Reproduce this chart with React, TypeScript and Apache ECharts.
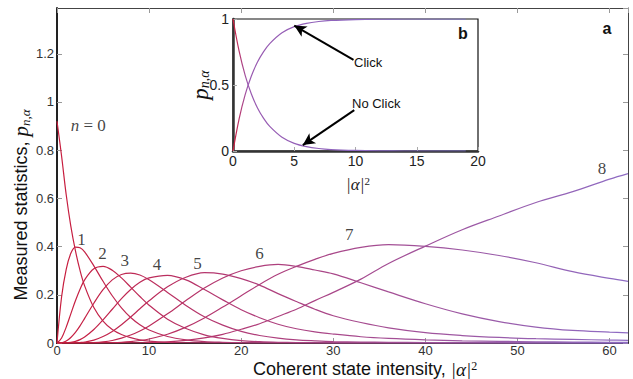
import React, { useEffect, useRef } from 'react';
import * as echarts from 'echarts';

// Main panel (a): coherent state intensity grid and measured click statistics p_n
const intensity = [0, 0.5, 1, 1.5, 2, 2.5, 3, 4, 5, 6, 7, 8, 9, 10, 12, 14, 16, 18, 20, 22, 24, 26, 28, 30, 33, 36, 40, 44, 48, 52, 56, 60, 62];
const n0 = [0.92, 0.775, 0.615, 0.485, 0.383, 0.301, 0.237, 0.147, 0.091, 0.056, 0.035, 0.022, 0.013, 0.008, 0.003, 0.001, 0.0005, 0, 0, 0, 0, 0, 0, 0, 0, 0, 0, 0, 0, 0, 0, 0, 0];
const n1 = [0, 0.192, 0.306, 0.372, 0.398, 0.395, 0.378, 0.32, 0.256, 0.196, 0.146, 0.106, 0.076, 0.054, 0.027, 0.013, 0.006, 0.003, 0.0013, 0.0006, 0, 0, 0, 0, 0, 0, 0, 0, 0, 0, 0, 0, 0];
const n2 = [0, 0.021, 0.066, 0.121, 0.175, 0.223, 0.262, 0.308, 0.318, 0.302, 0.27, 0.232, 0.193, 0.157, 0.099, 0.06, 0.034, 0.019, 0.01, 0.0055, 0.003, 0.0018, 0.001, 0.0007, 0, 0, 0, 0, 0, 0, 0, 0, 0];
const n3 = [0, 0.001, 0.008, 0.023, 0.044, 0.071, 0.102, 0.165, 0.221, 0.262, 0.284, 0.29, 0.282, 0.262, 0.21, 0.156, 0.109, 0.074, 0.048, 0.031, 0.02, 0.013, 0.009, 0.006, 0.004, 0.003, 0.002, 0.001, 0.001, 0, 0, 0, 0];
const n4 = [0, 0, 0.0006, 0.003, 0.007, 0.014, 0.025, 0.056, 0.096, 0.14, 0.184, 0.222, 0.252, 0.27, 0.281, 0.262, 0.222, 0.179, 0.138, 0.105, 0.078, 0.059, 0.046, 0.037, 0.026, 0.019, 0.013, 0.009, 0.007, 0.005, 0.004, 0.003, 0.003];
const n5 = [0, 0, 0, 0.0002, 0.0007, 0.002, 0.004, 0.012, 0.027, 0.048, 0.076, 0.108, 0.142, 0.175, 0.233, 0.273, 0.292, 0.286, 0.267, 0.24, 0.205, 0.172, 0.14, 0.113, 0.085, 0.063, 0.043, 0.031, 0.023, 0.018, 0.015, 0.012, 0.011];
const n6 = [0, 0, 0, 0, 0, 0.0002, 0.0004, 0.0016, 0.0047, 0.0104, 0.02, 0.033, 0.05, 0.071, 0.121, 0.176, 0.228, 0.27, 0.3, 0.318, 0.326, 0.318, 0.303, 0.287, 0.25, 0.212, 0.163, 0.121, 0.089, 0.066, 0.052, 0.045, 0.042];
const n7 = [0, 0, 0, 0, 0, 0, 0, 0.0001, 0.0005, 0.0013, 0.0029, 0.0058, 0.0103, 0.0167, 0.0365, 0.066, 0.104, 0.149, 0.196, 0.243, 0.285, 0.318, 0.347, 0.372, 0.397, 0.408, 0.401, 0.386, 0.363, 0.333, 0.296, 0.268, 0.256];
const n8 = [0, 0, 0, 0, 0, 0, 0, 0, 0, 0.0001, 0.0002, 0.0004, 0.0009, 0.0017, 0.0048, 0.0109, 0.021, 0.036, 0.057, 0.08, 0.11, 0.14, 0.176, 0.21, 0.265, 0.33, 0.402, 0.47, 0.527, 0.583, 0.628, 0.68, 0.703];
const curves = [n0, n1, n2, n3, n4, n5, n6, n7, n8];

// Curve labels (annotation anchors in data units)
const curveLabelText = ['{i|n} = 0', '1', '2', '3', '4', '5', '6', '7', '8'];
const curveLabelX = [3.4, 2.65, 4.93, 7.36, 10.87, 15.26, 22.0, 31.74, 59.17];
const curveLabelY = [0.902, 0.431, 0.37, 0.342, 0.327, 0.331, 0.37, 0.449, 0.726];

const mainXTicks = [0, 62, 10];
const mainYTicks = [0, 1.39, 0.2];

// Inset panel (b): click / no click probabilities
const insetIntensity = [0, 0.5, 1, 1.5, 2, 2.5, 3, 4, 5, 6, 7, 8, 10, 12, 14, 16, 19];
const noClick = [1, 0.756, 0.571, 0.432, 0.326, 0.247, 0.186, 0.104, 0.058, 0.033, 0.019, 0.011, 0.004, 0.001, 0, 0, 0];
const click = [0, 0.244, 0.429, 0.568, 0.674, 0.753, 0.814, 0.896, 0.942, 0.967, 0.981, 0.989, 0.996, 0.999, 1, 1, 1];
const insetXTicks = [0, 20, 5];
const insetYTicks = [0, 1, 0.5];
// arrows: [fromX, fromY, toX, toY] in inset data units
const clickArrow = [9.84, 0.69, 5.0, 0.95];
const noClickArrow = [9.9, 0.31, 5.7, 0.045];

const SANS = '"Liberation Sans", Arial, Helvetica, sans-serif';
const SERIF = '"Liberation Serif", "DejaVu Serif", serif';

export default function App() {
  const ref = useRef<HTMLDivElement>(null);
  useEffect(() => {
    const chart = echarts.init(ref.current!, null, { renderer: 'svg' });
    const mainGrad = new echarts.graphic.LinearGradient(57, 0, 628, 0, [
      { offset: 0, color: '#c81c3c' },
      { offset: 0.3, color: '#b23a74' },
      { offset: 1, color: '#8e6cc4' },
    ], true);
    const insetGrad = new echarts.graphic.LinearGradient(233, 0, 478, 0, [
      { offset: 0, color: '#d01c3a' },
      { offset: 0.06, color: '#9a5ab0' },
      { offset: 1, color: '#7c74d2' },
    ], true);

    const mainSeries = curves.map((vals, i) => ({
      type: 'line',
      name: 'n' + i,
      xAxisIndex: 0,
      yAxisIndex: 0,
      data: intensity.map((x, j) => [x, vals[j]]),
      smooth: 0.35,
      showSymbol: false,
      clip: true,
      silent: true,
      z: 1,
      lineStyle: { width: 1.2, color: mainGrad },
    }));

    const labelSeries = {
      type: 'scatter',
      xAxisIndex: 0,
      yAxisIndex: 0,
      symbolSize: 0,
      silent: true,
      z: 2,
      data: curveLabelText.map((t, i) => ({ value: [curveLabelX[i], curveLabelY[i]], label: { formatter: t } })),
      label: {
        show: true,
        position: 'inside',
        fontFamily: SERIF,
        fontSize: 17,
        color: '#111',
        rich: { i: { fontFamily: SERIF, fontStyle: 'italic', fontSize: 17, color: '#111' } },
      },
    };

    const insetLine = (vals: number[], withArrows: boolean) => ({
      type: 'line',
      xAxisIndex: 2,
      yAxisIndex: 2,
      data: insetIntensity.map((x, j) => [x, vals[j]]),
      smooth: 0.35,
      showSymbol: false,
      silent: true,
      z: 5,
      lineStyle: { width: 1.2, color: insetGrad },
      markLine: withArrows ? {
        silent: true,
        symbol: ['none', 'arrow'],
        symbolSize: [9, 12],
        label: { show: false },
        lineStyle: { color: '#000', width: 2, type: 'solid' },
        z: 6,
        data: [
          [{ coord: [clickArrow[0], clickArrow[1]] }, { coord: [clickArrow[2], clickArrow[3]] }],
          [{ coord: [noClickArrow[0], noClickArrow[1]] }, { coord: [noClickArrow[2], noClickArrow[3]] }],
        ],
      } : undefined,
    });

    const tickStyle = { inside: true, length: 5, lineStyle: { color: '#999', width: 1 } };
    const labelStyle = { fontSize: 13, color: '#333', fontFamily: SANS, showMaxLabel: false };

    const option: any = {
      animation: false,
      backgroundColor: '#fff',
      grid: [
        { left: 57, top: 8, right: 5, bottom: 36 },
        { left: 233, top: 19, width: 245, height: 132, show: true, backgroundColor: '#fff', borderColor: '#111', borderWidth: 1.2, z: 3 },
      ],
      xAxis: [
        {
          type: 'value', gridIndex: 0, min: mainXTicks[0], max: mainXTicks[1], interval: mainXTicks[2],
          axisLine: { onZero: false, lineStyle: { color: '#222', width: 2 } },
          axisTick: tickStyle, splitLine: { show: false },
          axisLabel: { ...labelStyle, margin: 1 },
        },
        {
          type: 'value', gridIndex: 0, position: 'top', min: mainXTicks[0], max: mainXTicks[1], interval: mainXTicks[2],
          axisLine: { onZero: false, lineStyle: { color: '#444', width: 1 } },
          axisTick: tickStyle, splitLine: { show: false }, axisLabel: { show: false },
        },
        {
          type: 'value', gridIndex: 1, min: insetXTicks[0], max: insetXTicks[1], interval: insetXTicks[2], z: 4,
          axisLine: { onZero: false, lineStyle: { color: '#333', width: 2.5 } },
          axisTick: { inside: true, length: 4, lineStyle: { color: '#aaa' } }, splitLine: { show: false },
          axisLabel: { fontSize: 14, color: '#222', fontFamily: SANS, margin: 3 },
        },
      ],
      yAxis: [
        {
          type: 'value', gridIndex: 0, min: mainYTicks[0], max: mainYTicks[1], interval: mainYTicks[2],
          axisLine: { onZero: false, lineStyle: { color: '#222', width: 2 } },
          axisTick: tickStyle, splitLine: { show: false },
          axisLabel: { ...labelStyle, margin: 3 },
        },
        {
          type: 'value', gridIndex: 0, position: 'right', min: mainYTicks[0], max: mainYTicks[1], interval: mainYTicks[2],
          axisLine: { onZero: false, lineStyle: { color: '#444', width: 1 } },
          axisTick: tickStyle, splitLine: { show: false }, axisLabel: { show: false },
        },
        {
          type: 'value', gridIndex: 1, min: insetYTicks[0], max: insetYTicks[1], interval: insetYTicks[2], z: 4,
          axisLine: { onZero: false, lineStyle: { color: '#333', width: 2.5 } },
          axisTick: { inside: true, length: 4, lineStyle: { color: '#aaa' } }, splitLine: { show: false },
          axisLabel: { fontSize: 14, color: '#222', fontFamily: SANS, margin: 4 },
        },
      ],
      series: [...mainSeries, labelSeries, insetLine(noClick, false), insetLine(click, true)],
      graphic: [
        {
          type: 'text', x: 21, y: 205, rotation: Math.PI / 2, z: 10,
          style: {
            text: 'Measured statistics, {p|p}{s|n,α}',
            font: '18px ' + SANS, fill: '#111', align: 'center', verticalAlign: 'middle',
            rich: {
              p: { fontFamily: SERIF, fontStyle: 'italic', fontSize: 21, fill: '#111' },
              s: { fontFamily: SERIF, fontStyle: 'italic', fontSize: 13, fill: '#111', verticalAlign: 'bottom', lineHeight: 12 },
            },
          },
        },
        {
          type: 'text', x: 253, y: 369, z: 10,
          style: {
            text: 'Coherent state intensity, {m||α|}{sup|2}',
            font: '18px ' + SANS, fill: '#111', align: 'left', verticalAlign: 'middle',
            rich: {
              m: { fontFamily: SERIF, fontStyle: 'italic', fontSize: 19, fill: '#111' },
              sup: { fontFamily: SERIF, fontSize: 12, fill: '#111', verticalAlign: 'top', lineHeight: 10 },
            },
          },
        },
        {
          type: 'text', x: 200, y: 85, rotation: Math.PI / 2, z: 10,
          style: {
            text: '{p|p}{s|n,α}',
            fill: '#111', align: 'center', verticalAlign: 'middle',
            rich: {
              p: { fontFamily: SERIF, fontStyle: 'italic', fontSize: 23, fill: '#111' },
              s: { fontFamily: SERIF, fontStyle: 'italic', fontSize: 14, fill: '#111', verticalAlign: 'bottom', lineHeight: 12 },
            },
          },
        },
        {
          type: 'text', x: 358, y: 184, z: 10,
          style: {
            text: '{m||α|}{sup|2}',
            fill: '#222', align: 'center', verticalAlign: 'middle',
            rich: {
              m: { fontFamily: SERIF, fontStyle: 'italic', fontSize: 17, fill: '#222' },
              sup: { fontFamily: SERIF, fontSize: 11, fill: '#222', verticalAlign: 'top', lineHeight: 9 },
            },
          },
        },
        { type: 'text', x: 607, y: 28, z: 10, style: { text: 'a', font: 'bold 16px ' + SANS, fill: '#111', align: 'center', verticalAlign: 'middle' } },
        { type: 'text', x: 463, y: 33, z: 10, style: { text: 'b', font: 'bold 16px ' + SANS, fill: '#111', align: 'center', verticalAlign: 'middle' } },
        { type: 'text', x: 354, y: 62, z: 10, style: { text: 'Click', font: '13px ' + SANS, fill: '#111', align: 'left', verticalAlign: 'middle' } },
        { type: 'text', x: 352, y: 103, z: 10, style: { text: 'No Click', font: '13px ' + SANS, fill: '#111', align: 'left', verticalAlign: 'middle' } },
      ],
    };
    chart.setOption(option);
    return () => chart.dispose();
  }, []);
  return <div ref={ref} style={{ position: 'fixed', left: 0, top: 0, width: 633, height: 379, background: '#fff' }} />;
}
